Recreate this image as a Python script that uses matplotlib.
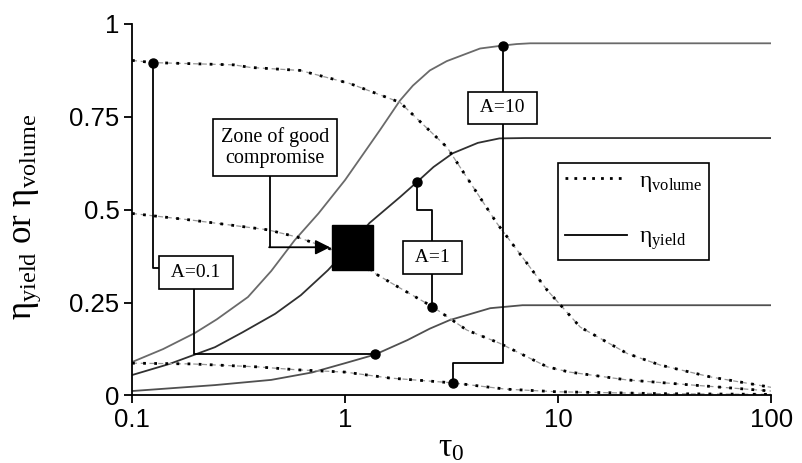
import matplotlib
matplotlib.use('Agg')
import matplotlib.pyplot as plt
from matplotlib.patches import Rectangle
from matplotlib.lines import Line2D

plt.rcParams['font.family'] = 'Liberation Serif'
plt.rcParams['mathtext.fontset'] = 'custom'
plt.rcParams['mathtext.rm'] = 'Liberation Serif'
plt.rcParams['mathtext.it'] = 'Liberation Serif:italic'

# eta_yield (solid lines)
tau_y10 = [0.1, 0.14, 0.197, 0.25, 0.35, 0.45, 0.58, 0.75, 1.0, 1.2, 1.46, 1.81, 2.08, 2.5, 3.0, 4.3, 5.5, 6.4, 7.4, 100]
yld_10 = [0.09, 0.125, 0.168, 0.205, 0.265, 0.335, 0.418, 0.49, 0.58, 0.645, 0.715, 0.794, 0.834, 0.875, 0.90, 0.934, 0.942, 0.946, 0.948, 0.948]

tau_y1 = [0.1, 0.15, 0.245, 0.33, 0.47, 0.62, 0.83, 1.05, 1.3, 1.81, 2.17, 2.6, 3.2, 4.2, 5.3, 7.0, 100]
yld_1 = [0.055, 0.085, 0.13, 0.17, 0.22, 0.27, 0.337, 0.40, 0.464, 0.534, 0.574, 0.615, 0.652, 0.68, 0.692, 0.693, 0.693]

tau_y01 = [0.1, 0.245, 0.45, 0.7, 1.0, 1.38, 1.96, 2.5, 3.1, 4.8, 6.8, 100]
yld_01 = [0.012, 0.028, 0.042, 0.062, 0.087, 0.11, 0.149, 0.18, 0.203, 0.235, 0.243, 0.243]

# eta_volume (dotted lines)
tau_v01 = [0.1, 0.1255, 0.3, 0.36, 0.615, 1.05, 1.81, 3.01, 5.17, 8.87, 12.7, 21.1, 30.1, 51.8, 100]
vol_01 = [0.902, 0.896, 0.89, 0.883, 0.875, 0.84, 0.789, 0.668, 0.463, 0.284, 0.184, 0.113, 0.082, 0.05, 0.022]

tau_v1 = [0.1, 0.191, 0.434, 0.6, 1.0, 1.35, 1.8, 2.59, 3.73, 5.3, 8.9, 11.3, 21, 43, 100]
vol_1 = [0.49, 0.472, 0.446, 0.426, 0.38, 0.332, 0.29, 0.238, 0.176, 0.141, 0.077, 0.063, 0.042, 0.028, 0.012]

tau_v10 = [0.1, 0.19, 0.39, 0.6, 1.0, 1.62, 3.2, 5.7, 9.9, 30, 100]
vol_10 = [0.087, 0.085, 0.077, 0.069, 0.063, 0.047, 0.034, 0.017, 0.01, 0.005, 0.003]

# highlighted points (A=0.1 vol, A=0.1 yield, A=1 yield, A=1 vol, A=10 yield, A=10 vol)
dot_tau = [0.1255, 1.38, 2.18, 2.57, 5.5, 3.21]
dot_val = [0.896, 0.111, 0.574, 0.238, 0.942, 0.034]

xticks = [0.1, 1, 10, 100]
xtick_labels = ['0.1', '1', '10', '100']
yticks = [0, 0.25, 0.5, 0.75, 1]
ytick_labels = ['0', '0.25', '0.5', '0.75', '1']

fig = plt.figure(figsize=(8.03, 4.63), dpi=100)
ax = fig.add_axes([0.1644, 0.1458, 0.796, 0.8024])
ax.set_xscale('log')
ax.set_xlim(0.1, 100)
ax.set_ylim(0, 1)

for t, v, c in [(tau_y10, yld_10, '#6a6a6a'), (tau_y1, yld_1, '#303030'), (tau_y01, yld_01, '#505050')]:
    ax.plot(t, v, color=c, lw=1.3, solid_capstyle='butt', zorder=2)

for t, v in [(tau_v01, vol_01), (tau_v1, vol_1), (tau_v10, vol_10)]:
    ax.plot(t, v, color='#999999', lw=0.9, ls=(0, (4, 3)), zorder=2)
    ax.plot(t, v, color='black', lw=2.0, ls=(0, (1, 3)), zorder=2)

# connector lines
lk = dict(color='black', lw=1.3, zorder=3)
ax.plot([0.1255, 0.1255, 0.199], [0.896, 0.343, 0.343], **lk)
ax.plot([0.195, 0.195, 1.38], [0.331, 0.111, 0.111], **lk)
ax.plot([0.445, 0.445], [0.667, 0.399], **lk)
ax.annotate('', xy=(0.85, 0.399), xytext=(0.44, 0.399),
            arrowprops=dict(arrowstyle='-|>', mutation_scale=22, color='black', lw=1.3,
                            shrinkA=0, shrinkB=0), zorder=3)
ax.plot([2.18, 2.18, 2.57, 2.57, 2.57], [0.574, 0.499, 0.499, 0.371, 0.238], **lk)
ax.plot([5.5, 5.5, 3.21, 3.21], [0.942, 0.087, 0.087, 0.034], **lk)

ax.add_patch(Rectangle((0.869, 0.337), 1.35 - 0.869, 0.121, color='black', zorder=4))
ax.plot(dot_tau, dot_val, 'o', color='black', ms=6.5, zorder=4)

bb = dict(boxstyle='square,pad=0.4', fc='white', ec='black', lw=1.2)
ax.text(0.199, 0.331, ' A=0.1 ', ha='center', va='center', fontsize=14, bbox=bb, zorder=5)
ax.text(2.57, 0.371, ' A=1 ', ha='center', va='center', fontsize=14, bbox=bb, zorder=5)
ax.text(5.5, 0.774, ' A=10 ', ha='center', va='center', fontsize=14, bbox=bb, zorder=5)
ax.text(0.469, 0.667, 'Zone of good\ncompromise', ha='center', va='center', fontsize=14.5,
        linespacing=1.1, bbox=bb, zorder=5)

handles = [Line2D([], [], color='black', lw=2.0, ls=(0, (1, 2.2))),
           Line2D([], [], color='black', lw=1.3)]
leg = ax.legend(handles, [r'$\mathregular{η_{volume}}$', r'$\mathregular{η_{yield}}$'],
                loc='upper left', bbox_to_anchor=(0.667, 0.626), borderaxespad=0,
                fancybox=False, edgecolor='black', framealpha=1, fontsize=17,
                handlelength=2.6, handletextpad=0.5, labelspacing=1.4, borderpad=0.3)
leg.get_frame().set_linewidth(1.2)

ax.spines['top'].set_visible(False)
ax.spines['right'].set_visible(False)
for s in ['left', 'bottom']:
    ax.spines[s].set_linewidth(1.3)
ax.set_xticks(xticks)
ax.set_xticklabels(xtick_labels)
ax.set_yticks(yticks)
ax.set_yticklabels(ytick_labels)
ax.minorticks_off()
ax.tick_params(direction='out', length=6, width=1.3, labelsize=18.5, pad=3)
for lab in ax.get_xticklabels() + ax.get_yticklabels():
    lab.set_fontfamily('Liberation Sans')

ax.set_ylabel(r'$\mathregular{η_{yield}\ or\ η_{volume}}$', fontsize=25, fontfamily='Liberation Serif')
ax.yaxis.set_label_coords(-0.14, 0.48)
ax.set_xlabel(r'$\mathregular{τ_0}$', fontsize=24)
ax.xaxis.set_label_coords(0.5, -0.1)

plt.savefig('out.png', dpi=100)
plt.close()
